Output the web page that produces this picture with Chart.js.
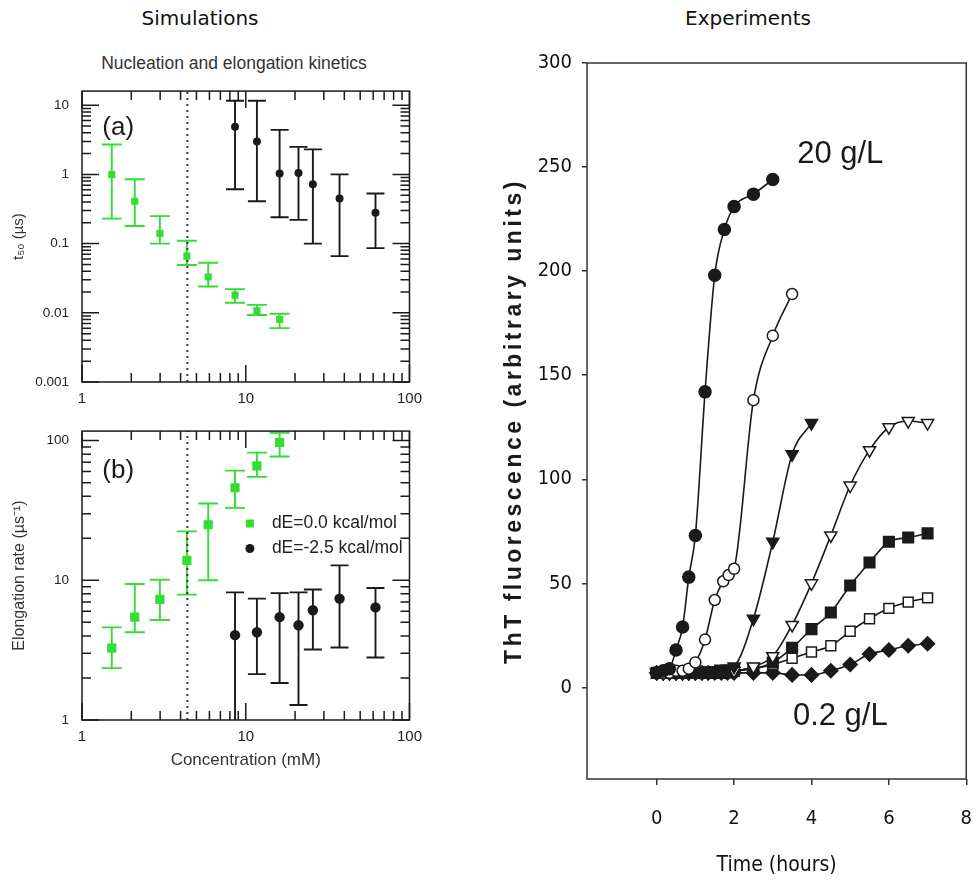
<!DOCTYPE html>
<html>
<head>
<meta charset="utf-8">
<title>Nucleation and elongation kinetics</title>
<script src="https://cdn.jsdelivr.net/npm/chart.js@4.4.1/dist/chart.umd.min.js"></script>
<style>
  body { margin: 0; background: #fff; }
  #page { position: relative; width: 973px; height: 888px; overflow: hidden; }
  .head { position: absolute; top: 6px; line-height: 24px; font: 20px 'DejaVu Sans', sans-serif; color: #111; transform: translateX(-50%); white-space: nowrap; }
  .sub { position: absolute; top: 53px; line-height: 20px; font: 17.5px 'Liberation Sans', Arial, sans-serif; color: #333; transform: translateX(-50%); white-space: nowrap; }
  canvas { position: absolute; }
</style>
</head>
<body>
<div id="page">
  <div class="head" style="left:200px">Simulations</div>
  <div class="head" style="left:748px">Experiments</div>
  <div class="sub" style="left:234px">Nucleation and elongation kinetics</div>
  <canvas id="panelA" width="430" height="345" style="left:0;top:70px"></canvas>
  <canvas id="panelB" width="430" height="370" style="left:0;top:410px"></canvas>
  <canvas id="panelC" width="494" height="848" style="left:500px;top:40px"></canvas>
</div>
<script>
// ---- simulations, panel (a): t50 vs concentration ----
const concGreen = [1.52, 2.1, 2.99, 4.37, 5.9, 8.6, 11.7, 16.1];
const t50Green = [1.0, 0.41, 0.14, 0.066, 0.033, 0.018, 0.0107, 0.008];
const t50GreenLo = [0.23, 0.18, 0.1, 0.049, 0.024, 0.014, 0.0093, 0.006];
const t50GreenHi = [2.7, 0.85, 0.25, 0.11, 0.053, 0.022, 0.013, 0.0097];

const concBlack = [8.6, 11.7, 16.1, 21.0, 25.7, 37.4, 62];
const t50Black = [4.9, 3.0, 1.03, 1.05, 0.72, 0.45, 0.28];
const t50BlackLo = [0.61, 0.41, 0.24, 0.22, 0.1, 0.066, 0.086];
const t50BlackHi = [11.6, 11.6, 4.4, 2.5, 2.3, 1.0, 0.53];

// ---- simulations, panel (b): elongation rate vs concentration ----
const rateGreen = [3.27, 5.45, 7.3, 13.9, 25, 46, 66, 97];
const rateGreenLo = [2.35, 4.25, 5.2, 7.9, 10, 33, 55, 77];
const rateGreenHi = [4.6, 9.4, 10.1, 22.4, 35.5, 61, 82, 114];

const rateBlack = [4.05, 4.25, 5.45, 4.77, 6.1, 7.4, 6.4];
const rateBlackLo = [0.9, 2.13, 1.84, 1.28, 3.2, 3.3, 2.8];
const rateBlackHi = [8.2, 7.4, 8.1, 8.2, 8.6, 12.8, 8.8];

const criticalConc = 4.4; // dotted line

// ---- experiments: ThT fluorescence vs time ----
const time20 = [0, 0.17, 0.33, 0.5, 0.67, 0.83, 1.0, 1.25, 1.5, 1.75, 2.0, 2.5, 3.0];
const fluo20 = [7, 8, 9, 18, 29, 53, 73, 142, 198, 220, 231, 237, 244];

const timeB = [0, 0.17, 0.33, 0.5, 0.67, 0.83, 1.0, 1.25, 1.5, 1.72, 1.86, 2.0, 2.5, 3.0, 3.5];
const fluoB = [7, 7, 7, 8, 8, 9, 12, 23, 42, 51, 54, 57, 138, 169, 189];

const timeC = [0, 0.17, 0.33, 0.5, 0.67, 0.83, 1.0, 1.17, 1.33, 1.5, 1.67, 1.83, 2.0, 2.5, 3.0, 3.5, 4.0];
const fluoC = [7, 7, 7, 7, 7, 7, 7, 8, 8, 8, 9, 9, 10, 33, 70, 112, 127];

const timeLong = [0, 0.17, 0.33, 0.5, 0.67, 0.83, 1.0, 1.17, 1.33, 1.5, 1.67, 1.83, 2.0, 2.5, 3.0, 3.5, 4.0, 4.5, 5.0, 5.5, 6.0, 6.5, 7.0];
const fluoD = [7, 7, 7, 7, 7, 7, 7, 7, 7, 8, 8, 8, 8, 10, 15, 30, 50, 73, 97, 114, 125, 128, 127];
const fluoE = [7, 7, 7, 7, 7, 7, 7, 7, 7, 7, 7, 8, 8, 9, 12, 19, 28, 36, 49, 60, 70, 72, 74];
const fluoF = [7, 7, 7, 7, 7, 7, 7, 7, 7, 7, 7, 7, 8, 9, 11, 14, 17, 20, 27, 33, 38, 41, 43];
const fluo02 = [7, 7, 7, 7, 7, 7, 7, 7, 7, 7, 7, 7, 7, 7, 7, 6, 6, 8, 11, 16, 18, 20, 21];

const timeTicks = [0, 2, 4, 6, 8];
const fluoTicks = [0, 50, 100, 150, 200, 250, 300];

const GREEN = '#33dd33';
const INK = '#1a1a1a';
const SANS = "'Liberation Sans', Arial, sans-serif";
const NARROW = "'Liberation Sans Narrow', 'DejaVu Sans Condensed', 'Liberation Sans', sans-serif";

Chart.defaults.font.family = SANS;
Chart.defaults.color = '#222';
Chart.defaults.animation = false;

const pts = (xs, ys) => xs.map((x, i) => ({ x: x, y: ys[i] }));

function isDecade(v) {
  const l = Math.log10(v);
  return Math.abs(l - Math.round(l)) < 1e-6;
}
function wholeMantissa(v) {
  const e = Math.floor(Math.log10(v) + 1e-9);
  const m = v / Math.pow(10, e);
  return Math.abs(m - Math.round(m)) < 1e-6;
}
function keepWholeTicks(s) {
  s.ticks = s.ticks.filter(t => wholeMantissa(t.value));
}
function decadeLabel(v) {
  return isDecade(v) ? String(Number(v.toPrecision(3))) : '';
}

// box around the plot, optionally with inward log ticks on all sides
const frame = {
  id: 'frame',
  afterDraw(chart, args, opts) {
    const { ctx, chartArea: a, scales } = chart;
    ctx.save();
    ctx.strokeStyle = opts.color || INK;
    ctx.lineWidth = opts.width || 1.5;
    ctx.strokeRect(a.left, a.top, a.right - a.left, a.bottom - a.top);
    if (opts.inward) {
      ctx.beginPath();
      scales.x.ticks.forEach(t => {
        const px = scales.x.getPixelForValue(t.value);
        if (px < a.left - 0.5 || px > a.right + 0.5) return;
        const L = isDecade(t.value) ? 17 : 9;
        ctx.moveTo(px, a.bottom); ctx.lineTo(px, a.bottom - L);
        ctx.moveTo(px, a.top); ctx.lineTo(px, a.top + L);
      });
      scales.y.ticks.forEach(t => {
        const py = scales.y.getPixelForValue(t.value);
        if (py < a.top - 0.5 || py > a.bottom + 0.5) return;
        const L = isDecade(t.value) ? 17 : 9;
        ctx.moveTo(a.left, py); ctx.lineTo(a.left + L, py);
        ctx.moveTo(a.right, py); ctx.lineTo(a.right - L, py);
      });
      ctx.stroke();
    }
    ctx.restore();
  }
};

// vertical error bars from errLo / errHi arrays on the dataset
const errorBars = {
  id: 'errorBars',
  beforeDatasetsDraw(chart) {
    const { ctx, chartArea: a, scales: { x, y } } = chart;
    ctx.save();
    ctx.beginPath();
    ctx.rect(a.left, a.top, a.right - a.left, a.bottom - a.top);
    ctx.clip();
    chart.data.datasets.forEach(ds => {
      if (!ds.errLo) return;
      ctx.strokeStyle = ds.borderColor;
      ctx.lineWidth = 1.9;
      const cap = ds.capHalf || 10;
      ds.data.forEach((p, j) => {
        const px = x.getPixelForValue(p.x);
        const lo = y.getPixelForValue(ds.errLo[j]);
        const hi = y.getPixelForValue(ds.errHi[j]);
        ctx.beginPath();
        ctx.moveTo(px, lo); ctx.lineTo(px, hi);
        ctx.moveTo(px - cap, lo); ctx.lineTo(px + cap, lo);
        ctx.moveTo(px - cap, hi); ctx.lineTo(px + cap, hi);
        ctx.stroke();
      });
    });
    ctx.restore();
  }
};

// text placed at data coordinates
const notes = {
  id: 'notes',
  afterDatasetsDraw(chart, args, opts) {
    const { ctx, scales: { x, y } } = chart;
    ctx.save();
    (opts.items || []).forEach(n => {
      ctx.font = n.font;
      ctx.fillStyle = n.color || INK;
      ctx.textAlign = 'left';
      ctx.textBaseline = 'middle';
      ctx.fillText(n.text, x.getPixelForValue(n.x), y.getPixelForValue(n.y));
    });
    ctx.restore();
  }
};

// little legend inside panel (b), built from the dataset labels
const innerLegend = {
  id: 'innerLegend',
  afterDatasetsDraw(chart, args, opts) {
    if (!opts.x) return;
    const { ctx, scales: { x, y } } = chart;
    const x0 = x.getPixelForValue(opts.x);
    let y0 = y.getPixelForValue(opts.y);
    ctx.save();
    ctx.font = opts.font;
    ctx.textBaseline = 'middle';
    chart.data.datasets.filter(ds => ds.errLo).forEach(ds => {
      ctx.fillStyle = ds.backgroundColor;
      if (ds.pointStyle === 'rect') ctx.fillRect(x0 - 4, y0 - 4, 8, 8);
      else { ctx.beginPath(); ctx.arc(x0, y0, 4.5, 0, Math.PI * 2); ctx.fill(); }
      ctx.fillStyle = '#222';
      ctx.fillText(ds.label, x0 + 22, y0);
      y0 += opts.step;
    });
    ctx.restore();
  }
};

// rotated, letter-spaced y title for the experiments panel
const sideTitle = {
  id: 'sideTitle',
  afterDraw(chart, args, opts) {
    if (!opts.text) return;
    const { ctx, chartArea: a } = chart;
    ctx.save();
    ctx.translate(opts.x, (a.top + a.bottom) / 2);
    ctx.rotate(-Math.PI / 2);
    ctx.font = opts.font;
    ctx.letterSpacing = opts.spacing;
    ctx.fillStyle = INK;
    ctx.textAlign = 'center';
    ctx.textBaseline = 'middle';
    ctx.fillText(opts.text, 0, 0);
    ctx.restore();
  }
};

function logAxis(min, max, size, horizontal, title) {
  const ax = {
    type: 'logarithmic', min: min, max: max,
    afterBuildTicks: keepWholeTicks,
    grid: { display: false, drawTicks: false },
    border: { display: false },
    ticks: { autoSkip: false, maxRotation: 0, padding: horizontal ? 8 : 13, callback: decadeLabel,
             color: '#222', font: { size: horizontal ? 15 : 13.5 } },
    title: title
  };
  if (horizontal) ax.afterFit = s => { s.height = size; };
  else ax.afterFit = s => { s.width = size; };
  return ax;
}

function simPanel(id, d, opts) {
  return new Chart(document.getElementById(id), {
    type: 'scatter',
    data: {
      datasets: [
        {
          label: 'dE=0.0 kcal/mol', data: pts(concGreen, d.green),
          errLo: d.greenLo, errHi: d.greenHi, capHalf: 10,
          pointStyle: 'rect', pointRadius: opts.sq, backgroundColor: GREEN, borderColor: GREEN, borderWidth: 0
        },
        {
          label: 'dE=-2.5 kcal/mol', data: pts(concBlack, d.black),
          errLo: d.blackLo, errHi: d.blackHi, capHalf: 9,
          pointStyle: 'circle', pointRadius: opts.dot, backgroundColor: INK, borderColor: INK, borderWidth: 0
        },
        {
          type: 'line', data: [{ x: criticalConc, y: opts.ymin }, { x: criticalConc, y: opts.ymax }],
          borderColor: '#333', borderWidth: 2, borderDash: [2, 4], pointRadius: 0
        }
      ]
    },
    options: {
      responsive: false,
      layout: { padding: { left: 0, top: 10, right: 20, bottom: 0 } },
      plugins: {
        legend: { display: false }, tooltip: { enabled: false },
        frame: { inward: true, color: INK, width: 1.5 },
        notes: { items: [{ text: opts.tag, x: 1.33, y: opts.tagY, font: '26px ' + SANS }] },
        innerLegend: opts.legend || {}
      },
      scales: {
        x: logAxis(1, 100, opts.xh, true, opts.xTitle),
        y: logAxis(opts.ymin, opts.ymax, 82, false,
          { display: true, text: opts.yTitle, padding: { top: 10 }, font: { size: opts.yFont }, color: '#333' })
      }
    },
    plugins: [frame, errorBars, notes, innerLegend]
  });
}

simPanel('panelA',
  { green: t50Green, greenLo: t50GreenLo, greenHi: t50GreenHi, black: t50Black, blackLo: t50BlackLo, blackHi: t50BlackHi },
  { ymin: 0.001, ymax: 16, sq: 5, dot: 4, tag: '(a)', tagY: 4.7, xh: 33, yFont: 15,
    yTitle: 't\u2085\u2080 (\u00b5s)', xTitle: { display: false } });

simPanel('panelB',
  { green: rateGreen, greenLo: rateGreenLo, greenHi: rateGreenHi, black: rateBlack, blackLo: rateBlackLo, blackHi: rateBlackHi },
  { ymin: 1, ymax: 117, sq: 6.5, dot: 5.2, tag: '(b)', tagY: 61, xh: 60, yFont: 16,
    yTitle: 'Elongation rate (\u00b5s\u207b\u00b9)',
    xTitle: { display: true, text: 'Concentration (mM)', padding: { bottom: 9 }, font: { size: 17 }, color: '#333' },
    legend: { x: 10.6, y: 25.5, step: 25, font: '17.5px ' + SANS } });

// ---- experiments panel ----
function series(times, values, style) {
  return Object.assign({
    data: pts(times, values), showLine: true, cubicInterpolationMode: 'monotone',
    borderColor: INK, borderWidth: 1.6, pointBorderColor: INK, pointBorderWidth: 1.5,
    pointRadius: 6, pointBackgroundColor: INK
  }, style);
}

new Chart(document.getElementById('panelC'), {
  type: 'scatter',
  data: {
    datasets: [
      series(time20, fluo20, { pointStyle: 'circle', pointRadius: 6 }),
      series(timeB, fluoB, { pointStyle: 'circle', pointRadius: 5.5, pointBackgroundColor: '#fff' }),
      series(timeC, fluoC, { pointStyle: 'triangle', pointRotation: 180, pointRadius: 7 }),
      series(timeLong, fluoD, { pointStyle: 'triangle', pointRotation: 180, pointRadius: 7, pointBackgroundColor: '#fff' }),
      series(timeLong, fluoE, { pointStyle: 'rect', pointRadius: 7.5 }),
      series(timeLong, fluoF, { pointStyle: 'rect', pointRadius: 7, pointBackgroundColor: '#fff' }),
      series(timeLong, fluo02, { pointStyle: 'rectRot', pointRadius: 7 })
    ]
  },
  options: {
    responsive: false,
    layout: { padding: { left: 0, top: 23, right: 7, bottom: 0 } },
    plugins: {
      legend: { display: false }, tooltip: { enabled: false },
      frame: { color: '#333', width: 1.5 },
      notes: { items: [
        { text: '20 g/L', x: 3.63, y: 256, font: '31px ' + SANS },
        { text: '0.2 g/L', x: 3.52, y: -14, font: '31px ' + SANS }
      ] },
      sideTitle: { text: 'ThT fluorescence (arbitrary units)', x: 15, font: 'bold 23px ' + SANS, spacing: '3.5px' }
    },
    scales: {
      x: {
        type: 'linear', min: -1.8, max: 8,
        afterBuildTicks: s => { s.ticks = timeTicks.map(v => ({ value: v })); },
        afterFit: s => { s.height = 109; },
        grid: { drawOnChartArea: false, tickLength: 6, color: '#333', lineWidth: 1.5 },
        border: { display: false },
        ticks: { padding: 22, maxRotation: 0, color: '#111', font: { family: NARROW, size: 20 } },
        title: { display: true, text: 'Time (hours)', padding: { bottom: 10 }, color: '#111',
                 font: { family: NARROW, size: 21 } }
      },
      y: {
        type: 'linear', min: -44, max: 300,
        afterBuildTicks: s => { s.ticks = fluoTicks.map(v => ({ value: v })); },
        afterFit: s => { s.width = 87; },
        grid: { drawOnChartArea: false, tickLength: 5, color: '#333', lineWidth: 1.5 },
        border: { display: false },
        ticks: { padding: 10, color: '#111', font: { family: NARROW, size: 20 } },
        title: { display: false }
      }
    }
  },
  plugins: [frame, notes, sideTitle]
});
</script>
</body>
</html>
